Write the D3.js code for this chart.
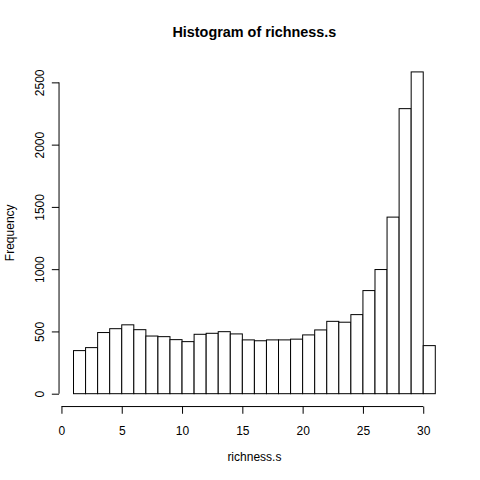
<!DOCTYPE html>
<html>
<head>
<meta charset="utf-8">
<script src="https://cdn.jsdelivr.net/npm/d3@7"></script>
<style>
  body { margin: 0; background: #fff; }
  text { font-family: "Liberation Sans", Arial, Helvetica, sans-serif; fill: #000; }
</style>
</head>
<body>
<div id="chart"></div>
<script>
// histogram bins (left edges, width 1) and their counts
const binStarts = d3.range(1, 31);
const counts = [346, 370, 491, 522, 553, 514, 463, 458, 434, 418,
                477, 485, 498, 480, 432, 425, 432, 432, 438, 472,
                512, 581, 574, 635, 828, 997, 1418, 2289, 2584, 386];
const xTicks = [0, 5, 10, 15, 20, 25, 30];
const yTicks = [0, 500, 1000, 1500, 2000, 2500];

const width = 480, height = 480;
// R default margins: mar = c(5,4,4,2)+0.1 lines of 14.4px
const lineH = 14.4;
const margin = {top: 4.1 * lineH, right: 2.1 * lineH, bottom: 5.1 * lineH, left: 4.1 * lineH};

const svg = d3.select("#chart").append("svg")
    .attr("width", width)
    .attr("height", height);

// R pads the data range by 4% each side
const xMin = 1, xMax = 31;
const xPad = (xMax - xMin) * 0.04;
const x = d3.scaleLinear()
    .domain([xMin - xPad, xMax + xPad])
    .range([margin.left, width - margin.right]);

const yMax = d3.max(counts);
const yPad = yMax * 0.04;
const y = d3.scaleLinear()
    .domain([-yPad, yMax + yPad])
    .range([height - margin.bottom, margin.top]);

// bars
svg.append("g")
    .selectAll("rect")
    .data(binStarts)
    .enter().append("rect")
    .attr("x", (d) => x(d))
    .attr("y", (d, i) => y(counts[i]))
    .attr("width", (d) => x(d + 1) - x(d))
    .attr("height", (d, i) => y(0) - y(counts[i]))
    .attr("fill", "#fff")
    .attr("stroke", "#000")
    .attr("stroke-width", 1);

// x axis, drawn at the bottom edge of the plot region
const xAxis = d3.axisBottom(x)
    .tickValues(xTicks)
    .tickFormat(d3.format("d"))
    .tickSize(7.2)
    .tickSizeOuter(0)
    .tickPadding(13);

const gX = svg.append("g")
    .attr("transform", `translate(0,${height - margin.bottom})`)
    .call(xAxis);
gX.select(".domain").attr("d", `M${x(xTicks[0])},0H${x(xTicks[xTicks.length - 1])}`);
gX.selectAll("text").attr("font-size", 12);

// y axis, labels rotated like R's las = 0
const yAxis = d3.axisLeft(y)
    .tickValues(yTicks)
    .tickFormat(d3.format("d"))
    .tickSize(7.2)
    .tickSizeOuter(0);

const gY = svg.append("g")
    .attr("transform", `translate(${margin.left},0)`)
    .call(yAxis);
gY.select(".domain").attr("d", `M0,${y(yTicks[0])}V${y(yTicks[yTicks.length - 1])}`);
gY.selectAll(".tick text")
    .attr("x", null)
    .attr("dy", null)
    .attr("font-size", 12)
    .attr("text-anchor", "middle")
    .attr("transform", "translate(-15,0) rotate(-90)");

svg.selectAll(".domain, .tick line").attr("stroke", "#000");
svg.selectAll(".tick text").style("font-family", "\"Liberation Sans\", Arial, sans-serif");

// titles
const plotCx = (margin.left + width - margin.right) / 2;
const plotCy = (margin.top + height - margin.bottom) / 2;

svg.append("text")
    .attr("x", plotCx)
    .attr("y", 37)
    .attr("text-anchor", "middle")
    .attr("font-size", 14.4)
    .attr("font-weight", "bold")
    .text("Histogram of richness.s");

svg.append("text")
    .attr("x", plotCx)
    .attr("y", 461)
    .attr("text-anchor", "middle")
    .attr("font-size", 12)
    .text("richness.s");

svg.append("text")
    .attr("transform", `translate(14,${plotCy}) rotate(-90)`)
    .attr("text-anchor", "middle")
    .attr("font-size", 12)
    .text("Frequency");
</script>
</body>
</html>
